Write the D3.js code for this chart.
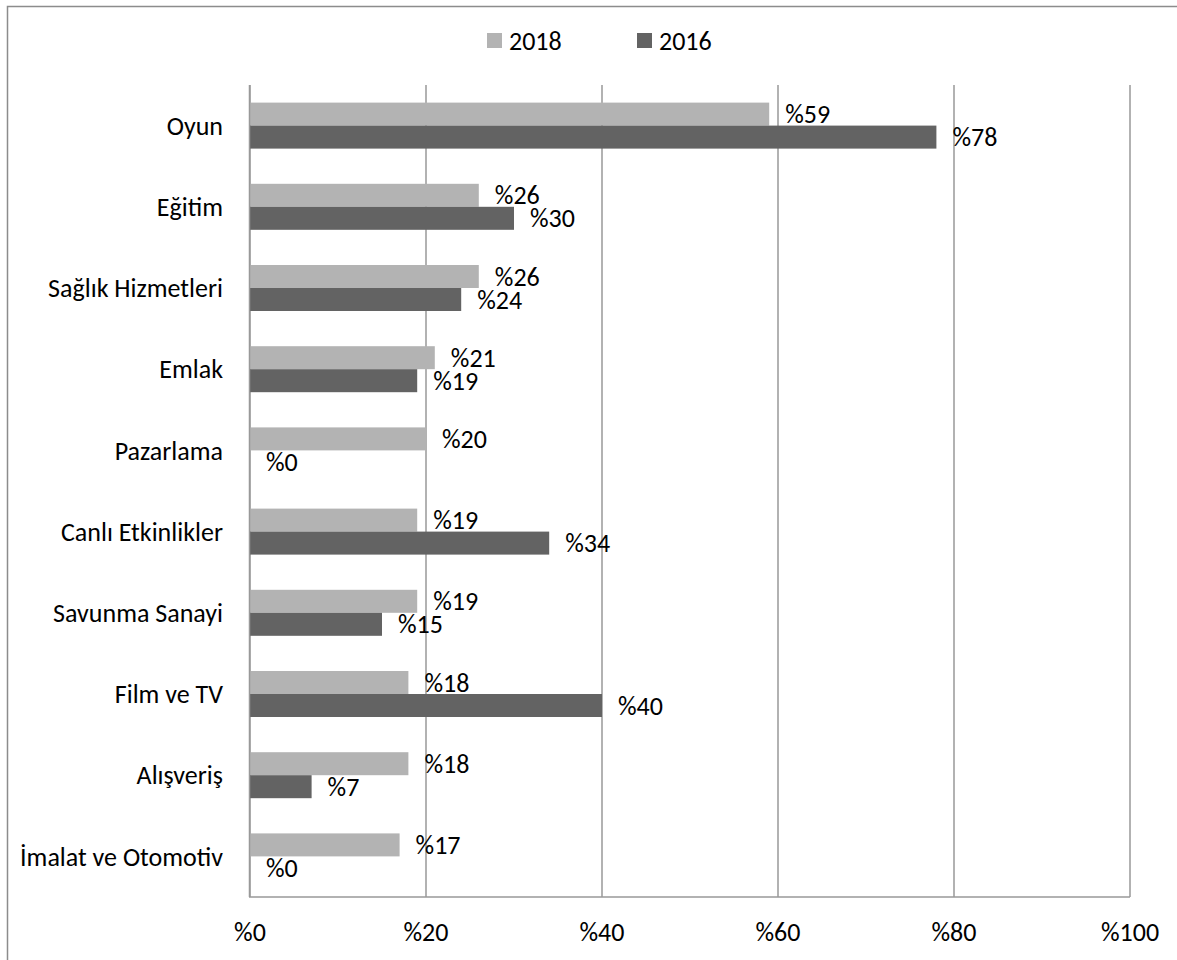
<html>
<head>
	<meta charset="utf-8">
	<script src="https://cdn.jsdelivr.net/npm/d3@7"></script>
	<style type="text/css">
		body{ margin:0; background:#fff; }
		svg{ font-family: Carlito, Lato, "Open Sans", sans-serif; }
	</style>
</head>
<body>
	<svg id="svg" width="1177" height="960"></svg>
	<script type="text/javascript">

		// data
		var categories = ["Oyun", "Eğitim", "Sağlık Hizmetleri", "Emlak", "Pazarlama",
			"Canlı Etkinlikler", "Savunma Sanayi", "Film ve TV", "Alışveriş", "İmalat ve Otomotiv"];
		var seriesNames = ["2018", "2016"];
		var values2018 = [59, 26, 26, 21, 20, 19, 19, 18, 18, 17];
		var values2016 = [78, 30, 24, 19, 0, 34, 15, 40, 7, 0];
		var xTicks = [0, 20, 40, 60, 80, 100];
		var colors = ["#b3b3b3", "#636363"];

		var svg = d3.select("#svg");
		var fontSize = "26px";

		// outer frame (left/top/bottom, runs off the right edge)
		svg.append("path")
			.attr("d", "M1177,6.5 H7.5 V960")
			.style("fill", "none").style("stroke", "#8c8c8c").style("stroke-width", 1.5);

		var plotLeft = 250, plotRight = 1130, plotTop = 85, plotBottom = 897;

		var x = d3.scaleLinear().domain([0, 100]).range([plotLeft, plotRight]);
		var y = d3.scaleBand().domain(categories).range([plotTop, plotBottom]);
		var barH = 23;

		//gridlines
		svg.append("g").selectAll("line").data(xTicks).enter().append("line")
			.attr("x1", function(d){ return x(d); })
			.attr("x2", function(d){ return x(d); })
			.attr("y1", plotTop).attr("y2", plotBottom)
			.style("stroke", "#999").style("stroke-width", 1.5);

		// bottom axis line
		svg.append("line").attr("x1", plotLeft - 1).attr("x2", plotRight).attr("y1", plotBottom).attr("y2", plotBottom)
			.style("stroke", "#999").style("stroke-width", 1.5);

		var series = [values2018, values2016];

		function barY(i, s){ return y(categories[i]) + y.bandwidth() / 2 - barH + s * barH; }

		series.forEach(function(vals, s){
			var g = svg.append("g").attr("class", "series" + s);
			g.selectAll("rect").data(vals).enter().append("rect")
				.attr("x", x(0))
				.attr("y", function(d, i){ return barY(i, s); })
				.attr("width", function(d){ return x(d) - x(0); })
				.attr("height", barH)
				.style("fill", colors[s]);

			g.selectAll("text").data(vals).enter().append("text")
				.attr("x", function(d){ return x(d) + 16; })
				.attr("y", function(d, i){ return barY(i, s) + barH / 2; })
				.attr("dy", "0.35em")
				.style("font-size", fontSize)
				.style("fill", "#000")
				.text(function(d){ return "%" + d; });
		});

		// left axis line on top of bars
		svg.append("line").attr("x1", plotLeft - 0.5).attr("x2", plotLeft - 0.5).attr("y1", plotTop).attr("y2", plotBottom)
			.style("stroke", "#999").style("stroke-width", 1.5);

		// category labels
		svg.append("g").selectAll("text").data(categories).enter().append("text")
			.attr("x", 223)
			.attr("y", function(d){ return y(d) + y.bandwidth() / 2; })
			.attr("dy", "0.35em")
			.attr("text-anchor", "end")
			.style("font-size", fontSize)
			.text(function(d){ return d; });

		// x tick labels
		svg.append("g").selectAll("text").data(xTicks).enter().append("text")
			.attr("x", function(d){ return x(d); })
			.attr("y", 932)
			.attr("dy", "0.35em")
			.attr("text-anchor", "middle")
			.style("font-size", fontSize)
			.text(function(d){ return "%" + d; });

		// legend
		var legendX = [487, 637];
		var legend = svg.append("g").selectAll("g").data(seriesNames).enter().append("g")
			.attr("transform", function(d, i){ return "translate(" + legendX[i] + ",33)"; });
		legend.append("rect").attr("width", 15).attr("height", 15)
			.style("fill", function(d, i){ return colors[i]; });
		legend.append("text").attr("x", 22).attr("y", 8).attr("dy", "0.35em")
			.style("font-size", fontSize)
			.text(function(d){ return d; });

	</script>
</body>
</html>
